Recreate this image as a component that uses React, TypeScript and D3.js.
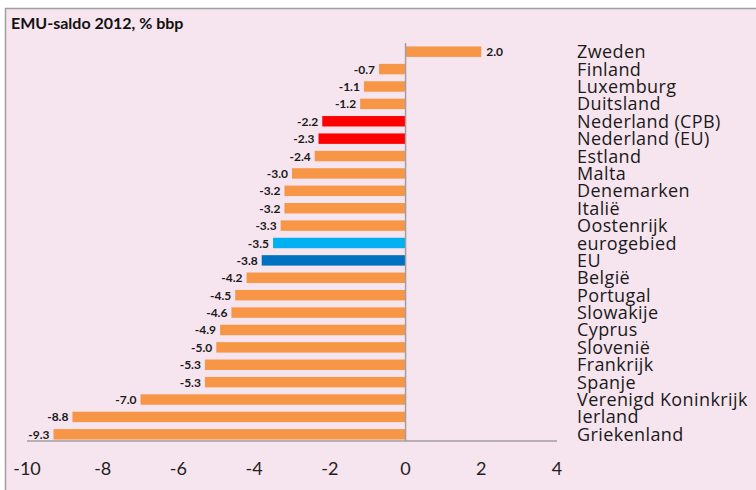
import React from "react";
import * as d3 from "d3";

const categories = [
  "Zweden", "Finland", "Luxemburg", "Duitsland", "Nederland (CPB)", "Nederland (EU)",
  "Estland", "Malta", "Denemarken", "Italië", "Oostenrijk", "eurogebied", "EU",
  "België", "Portugal", "Slowakije", "Cyprus", "Slovenië", "Frankrijk", "Spanje",
  "Verenigd Koninkrijk", "Ierland", "Griekenland",
];
const values = [
  2.0, -0.7, -1.1, -1.2, -2.2, -2.3, -2.4, -3.0, -3.2, -3.2, -3.3, -3.5, -3.8,
  -4.2, -4.5, -4.6, -4.9, -5.0, -5.3, -5.3, -7.0, -8.8, -9.3,
];
const tickValues = [-10, -8, -6, -4, -2, 0, 2, 4];
const title = "EMU-saldo 2012, % bbp";

const colorFor = (c: string) => {
  if (c.startsWith("Nederland")) return "#ff0000";
  if (c === "eurogebied") return "#00b0f0";
  if (c === "EU") return "#0070c0";
  return "#f79646";
};

export default function App() {
  const W = 756, H = 490;
  const x = d3.scaleLinear().domain([-10, 4]).range([27, 557]);
  const y = d3.scaleBand().domain(categories).range([43, 443]).paddingInner(0.4).paddingOuter(0.2);
  const axisY = 441;
  const font = "Lato, 'Open Sans', sans-serif";
  const labelFont = "'Open Sans', sans-serif";
  return (
    <svg width={W} height={H} style={{ position: "absolute", left: 0, top: 0, background: "#fff" }}>
      <rect x={5.5} y={8.5} width={W} height={H} fill="#f6e4ee" stroke="#a0a0a0" strokeWidth={1.5} />
      <text x={11} y={29} fontFamily={font} fontWeight={700} fontSize={16} fill="#111">{title}</text>
      {categories.map((c, i) => {
        const v = values[i];
        const x0 = x(Math.min(0, v));
        const x1 = x(Math.max(0, v));
        const yc = (y(c) as number) + y.bandwidth() / 2;
        return (
          <g key={c}>
            <rect x={x0} y={y(c)} width={x1 - x0} height={y.bandwidth()} fill={colorFor(c)} />
            <text
              x={v >= 0 ? x1 + 5 : x0 - 4}
              y={yc + 4.5}
              textAnchor={v >= 0 ? "start" : "end"}
              fontFamily={font}
              fontWeight={700}
              fontSize={12}
              fill="#1a1a1a"
            >
              {v.toFixed(1)}
            </text>
            <text x={577} y={yc + 6.5} fontFamily={labelFont} fontSize={18} letterSpacing={0.4} fill="#1a1a1a">{c}</text>
          </g>
        );
      })}
      <line x1={x(0)} x2={x(0)} y1={43} y2={axisY} stroke="#a0a0a0" strokeWidth={1.5} />
      <line x1={x(-10)} x2={x(4)} y1={axisY} y2={axisY} stroke="#a0a0a0" strokeWidth={1.5} />
      {tickValues.map((t) => (
        <text key={t} x={x(t)} y={475} textAnchor="middle" fontFamily={font} fontSize={18} fill="#222">{t}</text>
      ))}
    </svg>
  );
}
